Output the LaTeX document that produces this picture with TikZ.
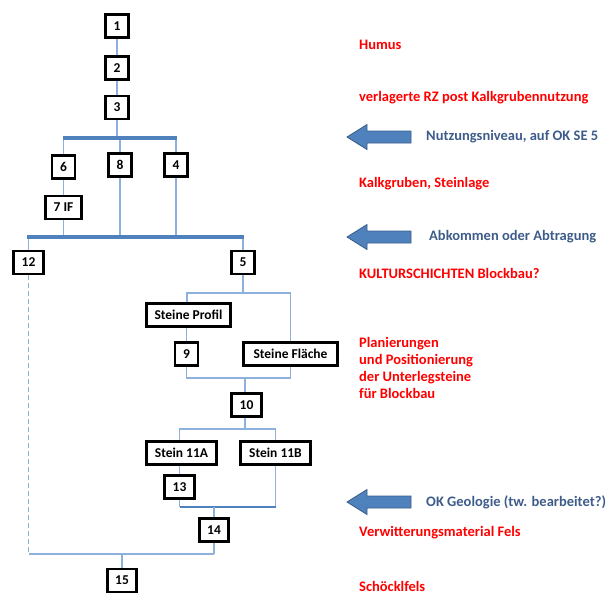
\documentclass[tikz,border=0pt]{standalone}
\usepackage{fontspec}
\setmainfont{Carlito}
\definecolor{conn}{RGB}{141,176,220}
\definecolor{barblue}{RGB}{79,129,189}
\definecolor{arrowedge}{RGB}{56,93,138}
\definecolor{notered}{RGB}{255,0,0}
\definecolor{noteblue}{RGB}{62,92,138}
\tikzset{
  box/.style={draw=black, line width=2.8pt, fill=white, minimum height=23pt, minimum width=23pt, inner sep=0pt, font=\bfseries\fontsize{13.5}{15}\selectfont},
  conn/.style={draw=conn, line width=1.1pt},
  bar/.style={draw=barblue, line width=3.5pt},
  redtxt/.style={anchor=west, text=notered, inner sep=0pt, font=\bfseries\fontsize{14.5}{17.3}\selectfont, align=left},
  bluetxt/.style={anchor=west, text=noteblue, inner sep=0pt, font=\bfseries\fontsize{14.5}{17}\selectfont},
  blockarrow/.style={fill=barblue, draw=arrowedge, line width=0.8pt}
}
\begin{document}
\begin{tikzpicture}[x=1pt, y=-1pt]
\useasboundingbox (0,0) rectangle (611,595);
% connectors are drawn first, boxes are filled white on top
\coordinate (b1) at (117,138);
\coordinate (b1L) at (63,138);
\coordinate (b1R) at (177,138);
\coordinate (b2L) at (27,237);
\coordinate (b2R) at (244,237);
\coordinate (s5) at (243,293);
\coordinate (j9) at (245,378);
\coordinate (s10) at (245,429);
\coordinate (b3) at (214,507);
\coordinate (j14) at (214,554);
\coordinate (j15) at (122,554);
% nodes
\node[box] (n1) at (117,26) {1};
\node[box] (n2) at (117,68) {2};
\node[box] (n3) at (117,107.5) {3};
\node[box] (n6) at (63.5,167) {6};
\node[box] (n8) at (120,165) {8};
\node[box] (n4) at (176,165) {4};
\node[box, minimum width=36pt] (n7) at (63.5,207.5) {7 IF};
\node[box, minimum width=30pt] (n12) at (28.5,262.5) {12};
\node[box] (n5) at (243,262.5) {5};
\node[box, minimum width=84pt] (prof) at (188.5,315) {Steine Profil};
\node[box] (n9) at (186.5,354) {9};
\node[box, minimum width=94pt] (flae) at (290.5,354) {Steine Fläche};
\node[box, minimum width=30pt] (n10) at (246.5,405) {10};
\node[box, minimum width=70pt] (s11a) at (181.5,453) {Stein 11A};
\node[box, minimum width=70pt] (s11b) at (275.5,453) {Stein 11B};
\node[box, minimum width=30pt] (n13) at (179.5,487) {13};
\node[box, minimum width=29pt] (n14) at (214,530) {14};
\node[box, minimum width=29pt] (n15) at (122,580.5) {15};
% connectors
\draw[conn] (n1.south) -- (n2.north);
\draw[conn] (n2.south) -- (n3.north);
\draw[conn] (n3.south) -- (b1);
\draw[conn] (n6.north) -- (n6.north |- b1);
\draw[conn] (n8.north) -- (n8.north |- b1);
\draw[conn] (n4.north) -- (n4.north |- b1);
\draw[bar, line width=3.5pt] (b1L) -- (b1R);
\draw[conn] (n6.south) -- (n7.north);
\draw[conn] (n7.south) -- (n7.south |- b2L);
\draw[conn] (n8.south) -- (n8.south |- b2L);
\draw[conn] (n4.south) -- (n4.south |- b2L);
\draw[conn] (n12.north) -- (n12.north |- b2L);
\draw[conn] (n5.north) -- (n5.north |- b2L);
\draw[bar, line width=3.8pt] (b2L) -- (b2R);
\draw[conn] (n5.south) -- (s5);
\draw[conn] (prof.north -| 187,0) |- (s5) -| (flae.north);
\draw[conn] (prof.south -| n9.north) -- (n9.north);
\draw[conn] (n9.south) |- (j9) -| (flae.south);
\draw[conn] (j9) -- (n10.north -| j9);
\draw[conn] (n10.south -| s10) -- (s10);
\draw[conn] (s11a.north -| n13) |- (s10) -| (s11b.north);
\draw[conn] (s11a.south -| n13) -- (n13.north);
\draw[conn] (n13.south) -- (n13.south |- b3);
\draw[conn] (s11b.south) -- (s11b.south |- b3);
\draw[bar, line width=2.6pt] (n13.south |- b3) -- (s11b.south |- b3);
\draw[conn] (b3) -- (n14.north);
\draw[conn] (n14.south) -- (j14);
\draw[conn] (j14) -- (j15) -- (n12.south |- j14);
\draw[conn, dash pattern=on 5pt off 3pt] (n12.south) -- (n12.south |- j14);
\draw[conn] (j15) -- (n15.north);
% right-hand notes
\node[redtxt] (t1) at (359,45) {Humus};
\node[redtxt] (t2) at (359,98) {verlagerte RZ post Kalkgrubennutzung};
\node[bluetxt] (t3) at (426,137) {Nutzungsniveau, auf OK SE 5};
\node[redtxt] (t4) at (359,184) {Kalkgruben, Steinlage};
\node[bluetxt] (t5) at (429,237) {Abkommen oder Abtragung};
\node[redtxt] (t6) at (359,273) {KULTURSCHICHTEN Blockbau?};
\node[redtxt] (t7) at (359,368) {Planierungen\\und Positionierung\\der Unterlegsteine\\für Blockbau};
\node[bluetxt] (t8) at (426,502) {OK Geologie (tw. bearbeitet?)};
\node[redtxt] (t9) at (359,533) {Verwitterungsmaterial Fels};
\node[redtxt] (t10) at (359,586) {Schöcklfels};
% block arrows
\foreach \yy in {137,237,502}{
  \draw[blockarrow] (347,\yy) -- (367,\yy-12.5) -- (367,\yy-6) -- (411,\yy-6) -- (411,\yy+6) -- (367,\yy+6) -- (367,\yy+12.5) -- cycle;
}
\end{tikzpicture}
\end{document}
